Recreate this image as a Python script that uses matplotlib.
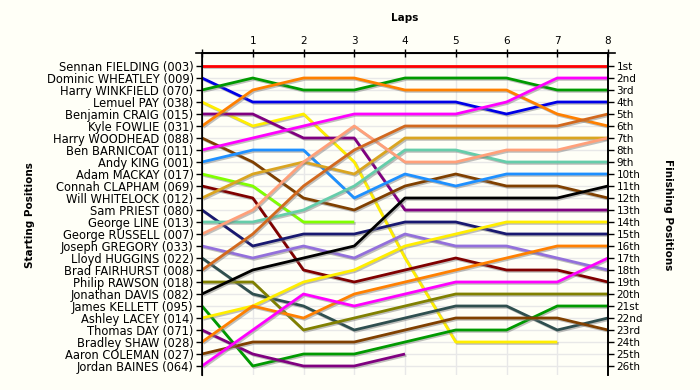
import numpy as np
import matplotlib
matplotlib.use("Agg")
import matplotlib.pyplot as plt
import matplotlib.patheffects as pe
from matplotlib.lines import Line2D

nan = np.nan
laps = [0, 1, 2, 3, 4, 5, 6, 7, 8]
lap_labels = ["", "1", "2", "3", "4", "5", "6", "7", "8"]

drivers = [
    "Sennan FIELDING (003)", "Dominic WHEATLEY (009)", "Harry WINKFIELD (070)",
    "Lemuel PAY (038)", "Benjamin CRAIG (015)", "Kyle FOWLIE (031)",
    "Harry WOODHEAD (088)", "Ben BARNICOAT (011)", "Andy KING (001)",
    "Adam MACKAY (017)", "Connah CLAPHAM (069)", "Will WHITELOCK (012)",
    "Sam PRIEST (080)", "George LINE (013)", "George RUSSELL (007)",
    "Joseph GREGORY (033)", "Lloyd HUGGINS (022)", "Brad FAIRHURST (008)",
    "Philip RAWSON (018)", "Jonathan DAVIS (082)", "James KELLETT (095)",
    "Ashley LACEY (014)", "Thomas DAY (071)", "Bradley SHAW (028)",
    "Aaron COLEMAN (027)", "Jordan BAINES (064)",
]

finish_labels = ["1st", "2nd", "3rd"] + [f"{i}th" for i in range(4, 21)] + \
    ["21st", "22nd", "23rd", "24th", "25th", "26th"]

positions = [
    [1, 1, 1, 1, 1, 1, 1, 1, 1],
    [2, 4, 4, 4, 4, 4, 5, 4, 4],
    [3, 2, 3, 3, 2, 2, 2, 3, 3],
    [4, 6, 5, 9, 17, 24, 24, 24, nan],
    [5, 5, 7, 7, 13, 13, 13, 13, 13],
    [6, 3, 2, 2, 3, 3, 3, 5, 6],
    [7, 9, 12, 13, 11, 10, 11, 11, 12],
    [8, 7, 6, 5, 5, 5, 4, 2, 2],
    [9, 8, 8, 12, 10, 11, 10, 10, 10],
    [10, 11, 14, 14, nan, nan, nan, nan, nan],
    [11, 12, 18, 19, 18, 17, 18, 18, 19],
    [12, 10, 9, 10, 7, 7, 7, 7, 7],
    [13, 16, 15, 15, 14, 14, 15, 15, 15],
    [14, 14, 13, 11, 8, 8, 9, 9, 9],
    [15, 13, 9, 6, 9, 9, 8, 8, 7],
    [16, 17, 16, 17, 15, 16, 16, 17, 18],
    [17, 20, 21, 23, 22, 21, 21, 23, 22],
    [18, 15, 11, 8, 6, 6, 6, 6, 5],
    [19, 19, 23, 22, 21, 20, 20, 20, 20],
    [20, 18, 17, 16, 12, 12, 12, 12, 11],
    [21, 26, 25, 25, 24, 23, 23, 21, 21],
    [22, 21, 19, 18, 16, 15, 14, 14, 14],
    [23, 25, 26, 26, 25, nan, nan, nan, nan],
    [24, 21, 22, 20, 19, 18, 17, 16, 16],
    [25, 24, 24, 24, 23, 22, 22, 22, 23],
    [26, 23, 20, 21, 20, 19, 19, 19, 17],
]

colors = [
    "#FF0000", "#0000E6", "#009A00", "#FFEE00", "#800080", "#FF8000",
    "#804000", "#FF00FF", "#1E90FF", "#80FF00", "#800000", "#DAA520",
    "#191970", "#66CDAA", "#FFA07A", "#9370DB", "#2F4F4F", "#D2691E",
    "#808000", "#000000", "#009A00", "#FFEE00", "#800080", "#FF8000",
    "#804000", "#FF00FF",
]

bg = "#FFFFF7"
fig = plt.figure(figsize=(7, 3.9), dpi=100, facecolor=bg)
W, H = 700, 390
x0, x1, ytop, ybot = 202, 608, 53, 375
ax = fig.add_axes([x0 / W, 1 - ybot / H, (x1 - x0) / W, (ybot - ytop) / H])
ax.set_facecolor(bg)

ax.set_xlim(0, 8)
ax.set_ylim(1 + (ybot - 66) / 12, 1 - (66 - ytop) / 12)

for i in range(1, 27):
    ax.axhline(i, color="#E8E8E8", lw=1, zorder=0)
for l in laps:
    ax.axvline(l, color="#E8E8E8", lw=1, zorder=0)

shadow = [pe.SimpleLineShadow(offset=(1.0, -1.0), shadow_color="#808080", alpha=0.5),
          pe.Normal()]
for pos, c in zip(positions, colors):
    ax.plot(laps, pos, color=c, lw=2.0, solid_capstyle="butt",
            path_effects=shadow, zorder=2)

ax.xaxis.tick_top()
ax.set_xticks(laps)
ax.set_xticklabels(lap_labels, fontsize=7.5)
ax.tick_params(axis="x", direction="inout", length=6, width=1, pad=2)
ax.set_yticks(range(1, 27))
ax.set_yticklabels(drivers, fontsize=8.3)
ax.tick_params(axis="y", direction="out", length=4, width=1, pad=2)

ax.spines["bottom"].set_visible(False)
for s in ["left", "right", "top"]:
    ax.spines[s].set_linewidth(1.2)
ax.add_line(Line2D([-0.015, 1.017], [1, 1], transform=ax.transAxes,
                   color="black", lw=1.2, clip_on=False))

ax2 = ax.twinx()
ax2.set_ylim(ax.get_ylim())
ax2.set_yticks(range(1, 27))
ax2.set_yticklabels(finish_labels, fontsize=7.5)
ax2.tick_params(axis="y", direction="out", length=4, width=1, pad=2)
ax2.spines["bottom"].set_visible(False)
ax2.spines["right"].set_linewidth(1.2)

fig.text(405 / W, 1 - 18 / H, "Laps", ha="center", va="center",
         fontsize=7.5, fontweight="bold")
fig.text(30 / W, 1 - 215 / H, "Starting Positions", ha="center", va="center",
         fontsize=7.5, fontweight="bold", rotation=90)
fig.text(668 / W, 1 - 215 / H, "Finishing Positions", ha="center", va="center",
         fontsize=7.5, fontweight="bold", rotation=270)

fig.savefig("out.png", dpi=100, facecolor=bg)
